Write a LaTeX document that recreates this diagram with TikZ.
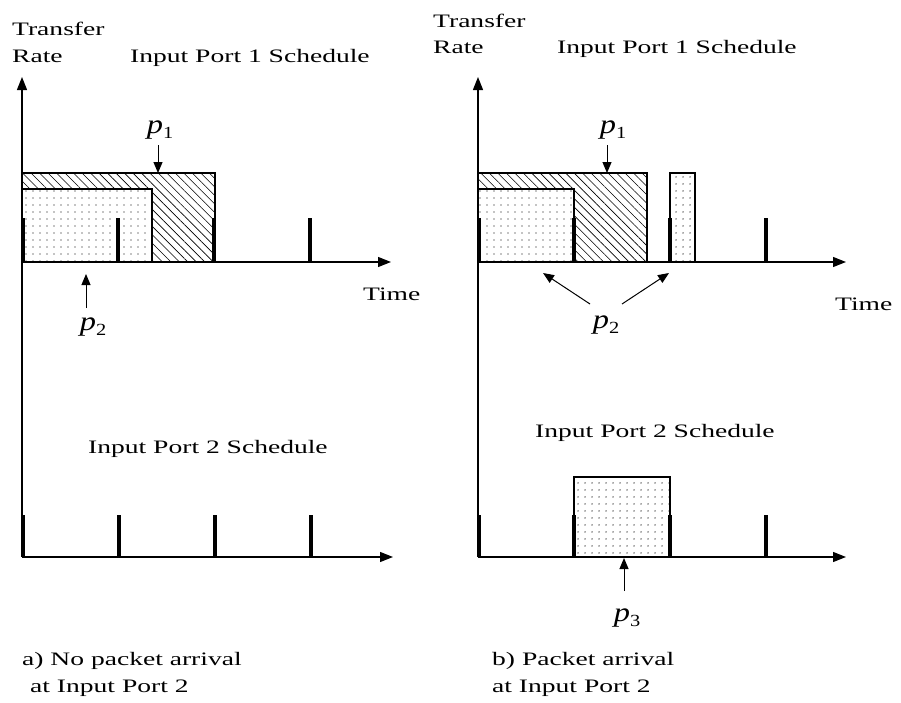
\documentclass[tikz,border=0pt]{standalone}
\usepackage{fontspec}
\setmainfont{Liberation Serif}[FakeStretch=1.45]
\newfontfamily\plabfont{Liberation Serif}[FakeStretch=1.2]
\usetikzlibrary{arrows.meta,patterns.meta}
\newcommand\plab[1]{{\plabfont\fontsize{27}{27}\selectfont\itshape p\raisebox{-5pt}{\fontsize{17}{17}\selectfont\upshape #1}}}
\begin{document}
\begin{tikzpicture}[x=1pt,y=-1pt,
  axis/.style={line width=1.3pt,-{Triangle[length=13pt,width=10pt]}},
  tickmark/.style={line width=4pt},
  box/.style={draw,line width=1.3pt},
  hatch/.style={box,preaction={fill=white},pattern={Lines[angle=-45,distance=6pt,line width=0.6pt]}},
  dotbox/.style={box,preaction={fill=white},pattern={Dots[distance=6.5pt,radius=0.7pt]}},
  ptr/.style={line width=1pt,-{Triangle[length=11pt,width=9pt]}},
  lbl/.style={font=\fontsize{19}{22}\selectfont,inner sep=0pt,anchor=base west},
  plbl/.style={inner sep=0pt}
]
\useasboundingbox (0,0) rectangle (901,702);

% ================= Panel a =================
\node[lbl] (aT) at (12,35) {Transfer};
\node[lbl] (aR) at (12,62) {Rate};
\node[lbl] (aS1) at (130,62) {Input Port 1 Schedule};
\node[lbl] (aTime) at (363,300) {Time};
\node[lbl] (aS2) at (88,453) {Input Port 2 Schedule};
\node[lbl] (aC1) at (22,665) {a) No packet arrival};
\node[lbl] (aC2) at (30,692) {at Input Port 2};

\draw[hatch] (22,173) rectangle (215,262);
\draw[dotbox] (22,189) rectangle (152,262);

\coordinate (aO) at (22,262);
\coordinate (aTop) at (22,77);
\coordinate (aBot) at (22,557);
\coordinate (aX1) at (391,262);
\coordinate (aX2) at (393,557);
\draw[axis] (aBot) -- (aTop);
\draw[axis] (aO) -- (aX1);
\draw[axis] (aBot) -- (aX2);

\foreach \x in {23,118,214,310} \draw[tickmark] (\x,218) -- (\x,262);
\foreach \x in {23,119,215,311} \draw[tickmark] (\x,515) -- (\x,557);

\node[plbl] (ap1) at (160,130) {\plab{1}};
\coordinate (ap1t) at (158,173);
\draw[ptr] (158,145) -- (ap1t);
\node[plbl] (ap2) at (93,327) {\plab{2}};
\coordinate (ap2t) at (86,274);
\draw[ptr] (86,308) -- (ap2t);

% ================= Panel b =================
\node[lbl] (bT) at (433,27) {Transfer};
\node[lbl] (bR) at (433,53) {Rate};
\node[lbl] (bS1) at (557,53) {Input Port 1 Schedule};
\node[lbl] (bTime) at (835,310) {Time};
\node[lbl] (bS2) at (535,437) {Input Port 2 Schedule};
\node[lbl] (bC1) at (492,665) {b) Packet arrival};
\node[lbl] (bC2) at (492,692) {at Input Port 2};

\draw[hatch] (478,173) rectangle (647,262);
\draw[dotbox] (478,189) rectangle (574,262);
\draw[dotbox] (670,173) rectangle (695,262);
\draw[dotbox] (574,477) rectangle (670,557);

\coordinate (bO) at (478,262);
\coordinate (bTop) at (478,77);
\coordinate (bBot) at (478,557);
\coordinate (bX1) at (846,262);
\coordinate (bX2) at (846,557);
\draw[axis] (bBot) -- (bTop);
\draw[axis] (bO) -- (bX1);
\draw[axis] (bBot) -- (bX2);

\foreach \x in {479,574,670,766} \draw[tickmark] (\x,218) -- (\x,262);
\foreach \x in {479,574,670,766} \draw[tickmark] (\x,515) -- (\x,557);

\node[plbl] (bp1) at (613,130) {\plab{1}};
\coordinate (bp1t) at (607,173);
\draw[ptr] (607,145) -- (bp1t);
\node[plbl] (bp2) at (606,325) {\plab{2}};
\coordinate (bp2a) at (543,273);
\coordinate (bp2b) at (669,273);
\draw[ptr] (590,304) -- (bp2a);
\draw[ptr] (622,304) -- (bp2b);
\node[plbl] (bp3) at (627,618) {\plab{3}};
\coordinate (bp3t) at (624,558);
\draw[ptr] (624,591) -- (bp3t);
\end{tikzpicture}
\end{document}
